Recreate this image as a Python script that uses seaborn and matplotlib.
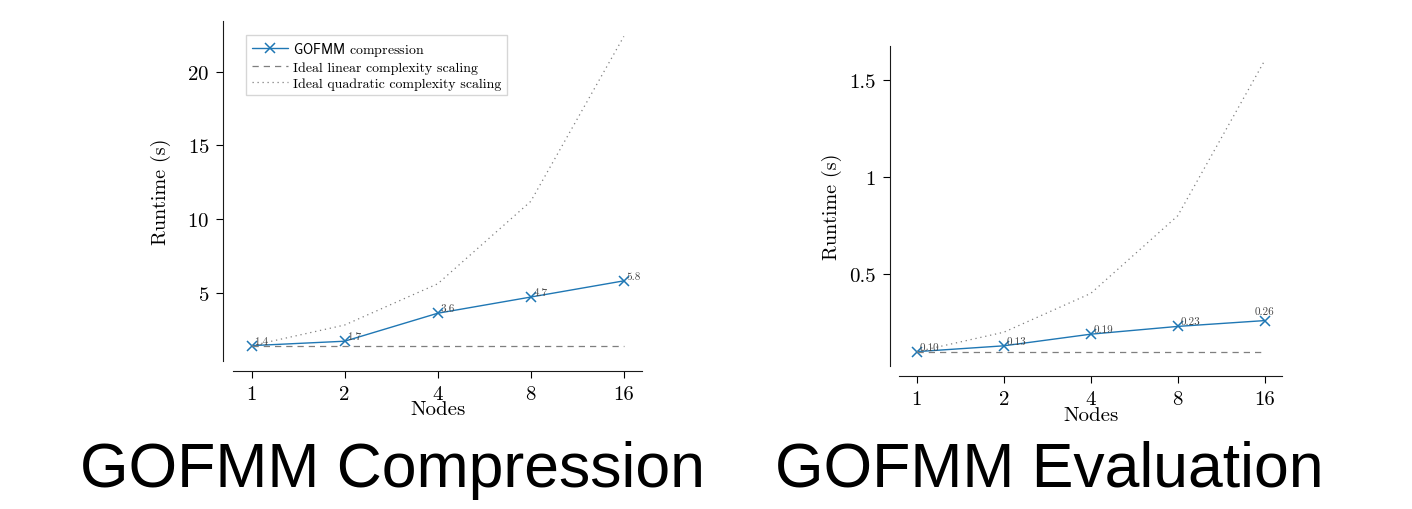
import matplotlib
matplotlib.use('Agg')
import matplotlib.pyplot as plt
import seaborn as sns

# Data
nodes = [1, 2, 4, 8, 16]
node_labels = ['1', '2', '4', '8', '16']

comp_runtime = [1.4, 1.7, 3.6, 4.7, 5.8]
comp_linear = [1.4, 1.4, 1.4, 1.4, 1.4]
comp_quadratic = [1.4, 2.8, 5.6, 11.2, 22.4]
comp_yticks = [5, 10, 15, 20]

eval_runtime = [0.10, 0.13, 0.19, 0.23, 0.26]
eval_linear = [0.10, 0.10, 0.10, 0.10, 0.10]
eval_quadratic = [0.10, 0.20, 0.40, 0.80, 1.60]
eval_yticks = [0.5, 1.0, 1.5]
eval_yticklabels = ['0.5', '1', '1.5']

sns.set_style('ticks')
plt.rcParams['font.family'] = ['cmr10', 'DejaVu Serif']
plt.rcParams['mathtext.fontset'] = 'cm'
plt.rcParams['axes.formatter.use_mathtext'] = True
for key in ['text.color', 'axes.labelcolor', 'xtick.color', 'ytick.color']:
    plt.rcParams[key] = 'black'
plt.rcParams['axes.edgecolor'] = '0.1'

blue = '#1f77b4'
grey = '#7f7f7f'

fig = plt.figure(figsize=(14.12, 5.1), dpi=100)
ax1 = fig.add_axes([0.165, 0.290, 0.290, 0.667])
ax2 = fig.add_axes([0.637, 0.280, 0.271, 0.628])


def draw_panel(ax, runtime, linear, quad, fmt, legend, ypad):
    sns.lineplot(x=nodes, y=runtime, ax=ax, color=blue, lw=1, marker='x', markersize=7,
                 markeredgecolor=blue, markeredgewidth=1.1,
                 label=r'$\mathsf{GOFMM}$ compression')
    sns.lineplot(x=nodes, y=linear, ax=ax, color=grey, lw=0.9, linestyle=(0, (5, 4)),
                 label='Ideal linear complexity scaling')
    sns.lineplot(x=nodes, y=quad, ax=ax, color=grey, lw=0.9, linestyle=(0, (1, 3)),
                 label='Ideal quadratic complexity scaling')
    ax.set_xscale('log', base=2)
    ax.set_xticks(nodes)
    ax.set_xticklabels(node_labels)
    ax.minorticks_off()
    for i, v in enumerate(runtime):
        if i == len(runtime) - 1 and fmt == '{:.2f}':
            ax.annotate(fmt.format(v), (nodes[i], v), xytext=(0, 3), textcoords='offset points',
                        fontsize=8, color='#444444', ha='center', va='bottom')
        else:
            ax.annotate(fmt.format(v), (nodes[i], v), xytext=(2, 0), textcoords='offset points',
                        fontsize=8, color='#444444', ha='left', va='bottom')
    ax.set_xlabel('Nodes', fontsize=15, labelpad=-1.5)
    ax.set_ylabel('Runtime (s)', fontsize=14.5, labelpad=ypad)
    ax.tick_params(labelsize=15, length=5, width=0.8, pad=5)
    if legend:
        ax.legend(loc='upper left', fontsize=10, frameon=True, fancybox=False,
                  edgecolor='#cccccc', borderpad=0.4, labelspacing=0.22, handlelength=2.6,
                  handletextpad=0.4, bbox_to_anchor=(0.015, 0.98))
    else:
        ax.get_legend().remove()
    sns.despine(ax=ax, offset=7)


draw_panel(ax1, comp_runtime, comp_linear, comp_quadratic, '{:.1f}', True, 12)
ax1.set_yticks(comp_yticks)

draw_panel(ax2, eval_runtime, eval_linear, eval_quadratic, '{:.2f}', False, 5)
ax2.set_yticks(eval_yticks)
ax2.set_yticklabels(eval_yticklabels)

fig.text(0.278, 0.078, 'GOFMM Compression', fontsize=45, family='Liberation Sans',
         ha='center', va='center', color='black')
fig.text(0.743, 0.078, 'GOFMM Evaluation', fontsize=45, family='Liberation Sans',
         ha='center', va='center', color='black')

fig.savefig('out.png', dpi=100)
